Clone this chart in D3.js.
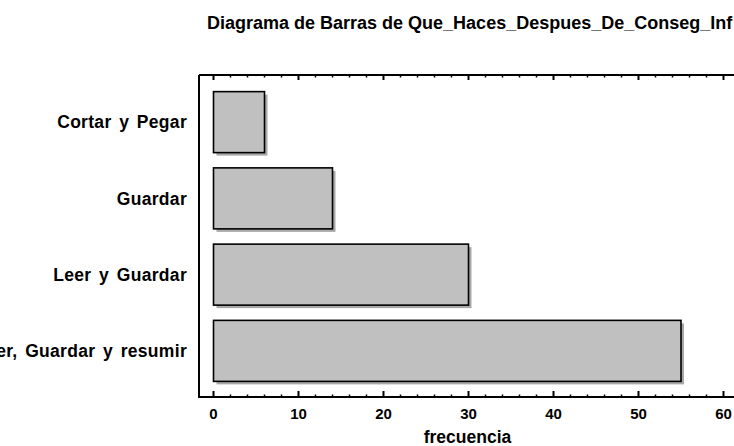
<!DOCTYPE html>
<html><head><meta charset="utf-8">
<script src="https://cdn.jsdelivr.net/npm/d3@7"></script>
<style>body{margin:0;background:#fff}svg{display:block}text{font-family:"Liberation Sans",Arial,sans-serif;font-weight:bold;fill:#000}</style>
</head><body>
<svg id="c" width="734" height="446"></svg>
<script>
const categories = ["Cortar y Pegar", "Guardar", "Leer y Guardar", "Leer, Guardar y resumir"];
const values = [6, 14, 30, 55];
const xTicks = [0, 10, 20, 30, 40, 50, 60];
const title = "Diagrama de Barras de Que_Haces_Despues_De_Conseg_Inf";
const xLabel = "frecuencia";

(function(){
const svg = d3.select("#c");
const pL = 199, pT = 75, pR = 748, pB = 397;
const x = d3.scaleLinear().domain([0, 60]).range([213.5, 723.5]);
const y = d3.scaleBand().domain(categories).range([84, 389]).paddingInner(0.2).paddingOuter(0.1);

svg.append("text").attr("x", 207).attr("y", 28.5).attr("font-size", 18).text(title);

svg.selectAll("rect.sh").data(values).join("rect").attr("class","sh")
  .attr("x", x(0) + 3).attr("y", (d,i) => y(categories[i]) + 3)
  .attr("width", d => x(d) - x(0)).attr("height", y.bandwidth())
  .attr("fill", "#a8a8a8");
svg.selectAll("rect.bar").data(values).join("rect").attr("class","bar")
  .attr("x", x(0)).attr("y", (d,i) => y(categories[i]))
  .attr("width", d => x(d) - x(0)).attr("height", y.bandwidth())
  .attr("fill", "#c0c0c0").attr("stroke", "#000").attr("stroke-width", 1.6);

svg.append("path").attr("d", `M${pL},${pT}H${pR}M${pL},${pT}V${pB}H${pR}`)
  .attr("fill","none").attr("stroke","#000").attr("stroke-width",2);

const minor = d3.range(0, 61, 2).filter(v => v % 10 !== 0);
const g = svg.append("g").attr("stroke","#000");
xTicks.forEach(v => {
  g.append("line").attr("x1", x(v)).attr("x2", x(v)).attr("y1", pB).attr("y2", pB - 6).attr("stroke-width", 2);
  g.append("line").attr("x1", x(v)).attr("x2", x(v)).attr("y1", pT).attr("y2", pT + 5).attr("stroke-width", 2);
});
minor.forEach(v => {
  g.append("line").attr("x1", x(v)).attr("x2", x(v)).attr("y1", pB).attr("y2", pB - 2.5).attr("stroke-width", 1.5);
  g.append("line").attr("x1", x(v)).attr("x2", x(v)).attr("y1", pT).attr("y2", pT + 2.5).attr("stroke-width", 1.5);
});

svg.selectAll("text.xt").data(xTicks).join("text").attr("class","xt")
  .attr("x", d => x(d)).attr("y", 419).attr("text-anchor","middle").attr("font-size", 15).text(d => d);
svg.append("text").attr("x", 467.5).attr("y", 442.5).attr("text-anchor","middle").attr("font-size", 17.5).text(xLabel);

svg.selectAll("text.yl").data(categories).join("text").attr("class","yl")
  .attr("x", 187).attr("y", d => y(d) + y.bandwidth()/2).attr("dy","0.35em")
  .attr("text-anchor","end").attr("font-size", 17.5).attr("word-spacing", 2.5).attr("letter-spacing", 0.3).text(d => d);
})();
</script>
</body></html>
